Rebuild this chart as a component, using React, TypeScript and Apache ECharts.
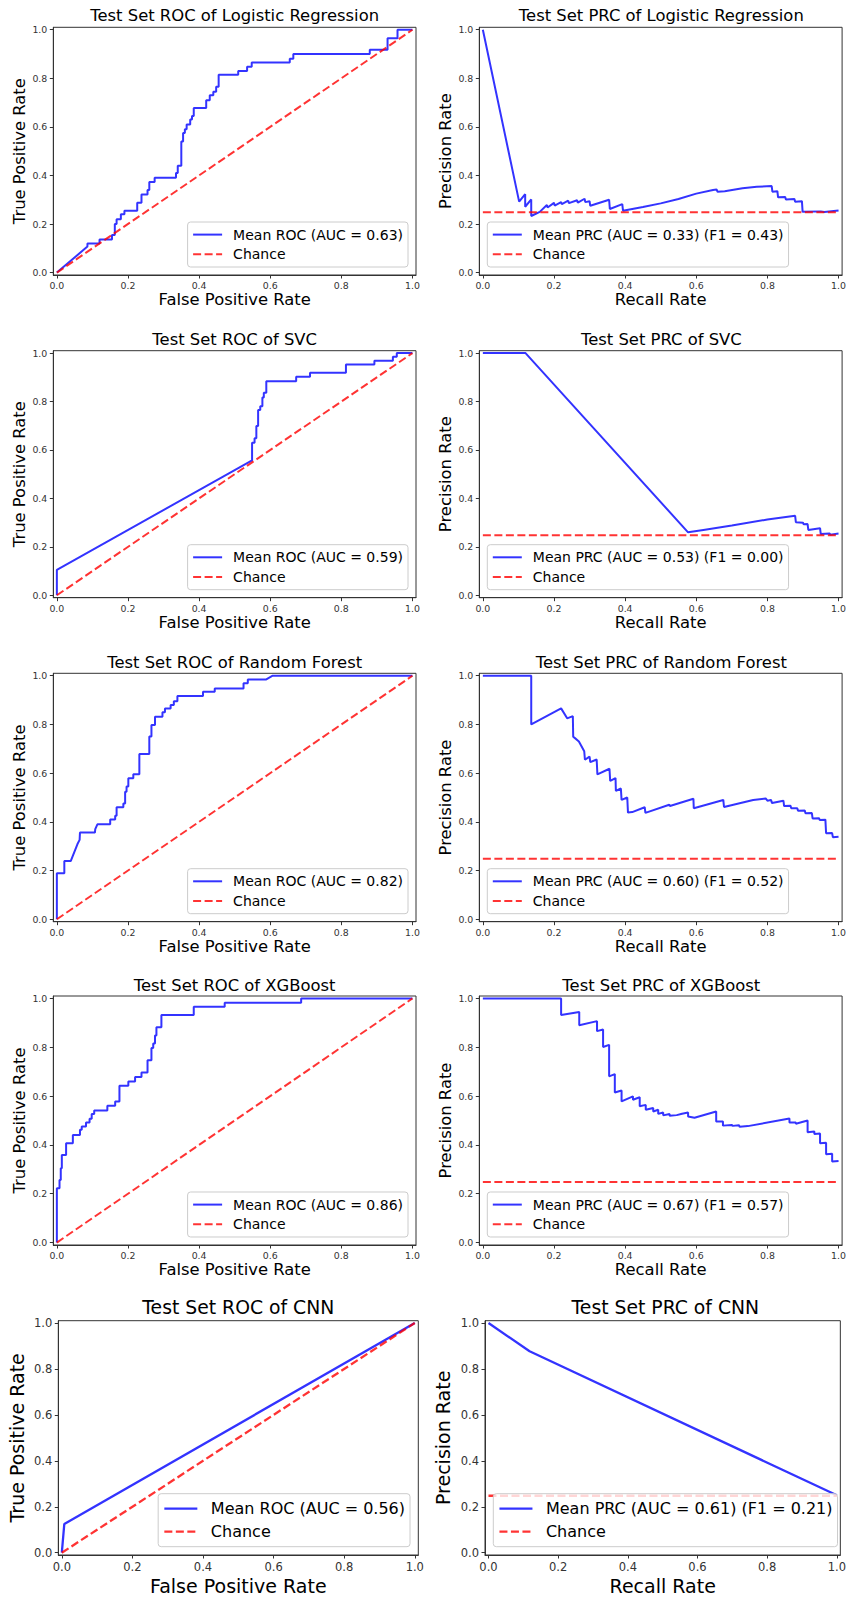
import React, { useEffect, useRef } from "react";
import * as echarts from "echarts";

// ---------- data ----------
const tickValues = [0, 0.2, 0.4, 0.6, 0.8, 1.0];
const chancePrecision = 0.248;
const rocChance = [[0, 0], [1, 1]];
const prcChance = [[0, chancePrecision], [1, chancePrecision]];

const rocLR = [[0,0],[0.086,0.107],[0.086,0.12],[0.12,0.12],[0.12,0.136],[0.155,0.136],[0.155,0.155],[0.163,0.155],[0.163,0.2],[0.168,0.2],[0.168,0.22],[0.18,0.22],[0.18,0.24],[0.19,0.24],[0.19,0.255],[0.226,0.255],[0.226,0.288],[0.238,0.288],[0.238,0.322],[0.255,0.322],[0.255,0.34],[0.26,0.34],[0.26,0.373],[0.275,0.373],[0.275,0.39],[0.335,0.39],[0.335,0.41],[0.34,0.41],[0.34,0.44],[0.35,0.44],[0.35,0.54],[0.355,0.54],[0.355,0.575],[0.36,0.575],[0.36,0.59],[0.365,0.59],[0.365,0.61],[0.375,0.61],[0.375,0.63],[0.38,0.63],[0.38,0.645],[0.385,0.645],[0.385,0.678],[0.42,0.678],[0.42,0.71],[0.43,0.71],[0.43,0.73],[0.44,0.73],[0.44,0.745],[0.448,0.745],[0.448,0.765],[0.455,0.765],[0.455,0.815],[0.51,0.815],[0.51,0.83],[0.535,0.83],[0.535,0.848],[0.548,0.848],[0.548,0.865],[0.655,0.865],[0.655,0.88],[0.665,0.88],[0.665,0.9],[0.88,0.9],[0.88,0.918],[0.93,0.918],[0.93,0.965],[0.958,0.965],[0.958,1.0],[1.0,1.0]];
const prcLR = [[0,1],[0.102,0.292],[0.119,0.323],[0.119,0.271],[0.136,0.301],[0.136,0.233],[0.16,0.25],[0.18,0.278],[0.182,0.268],[0.2,0.287],[0.202,0.276],[0.22,0.29],[0.222,0.282],[0.24,0.296],[0.242,0.286],[0.265,0.298],[0.267,0.288],[0.286,0.304],[0.288,0.29],[0.3,0.294],[0.302,0.275],[0.355,0.3],[0.357,0.262],[0.392,0.282],[0.394,0.255],[0.42,0.262],[0.45,0.27],[0.5,0.285],[0.55,0.303],[0.6,0.325],[0.647,0.34],[0.657,0.342],[0.66,0.333],[0.68,0.335],[0.73,0.347],[0.77,0.353],[0.812,0.356],[0.814,0.333],[0.828,0.335],[0.83,0.31],[0.85,0.311],[0.852,0.301],[0.876,0.303],[0.878,0.292],[0.897,0.294],[0.899,0.25],[0.95,0.252],[0.96,0.249],[1,0.256]];

const rocSVC = [[0,0],[0,0.105],[0.549,0.557],[0.549,0.63],[0.556,0.63],[0.556,0.648],[0.561,0.648],[0.561,0.699],[0.566,0.699],[0.566,0.765],[0.572,0.765],[0.572,0.781],[0.578,0.781],[0.578,0.817],[0.582,0.817],[0.582,0.836],[0.589,0.836],[0.589,0.884],[0.673,0.884],[0.673,0.902],[0.712,0.902],[0.712,0.919],[0.813,0.919],[0.813,0.953],[0.893,0.953],[0.893,0.968],[0.945,0.968],[0.945,0.985],[0.956,0.985],[0.956,1.0],[1,1]];
const prcSVC = [[0,1],[0.12,1],[0.577,0.26],[0.62,0.27],[0.7,0.288],[0.8,0.313],[0.878,0.328],[0.88,0.302],[0.9,0.3],[0.902,0.293],[0.913,0.294],[0.915,0.27],[0.948,0.277],[0.95,0.253],[0.975,0.255],[0.977,0.25],[1,0.255]];

const rocRF = [[0,0],[0,0.189],[0.021,0.189],[0.021,0.239],[0.039,0.239],[0.058,0.309],[0.064,0.326],[0.065,0.356],[0.107,0.356],[0.108,0.37],[0.114,0.39],[0.15,0.39],[0.15,0.41],[0.164,0.41],[0.164,0.425],[0.168,0.425],[0.168,0.46],[0.187,0.46],[0.187,0.475],[0.192,0.475],[0.192,0.524],[0.196,0.524],[0.196,0.545],[0.201,0.545],[0.201,0.579],[0.215,0.579],[0.215,0.595],[0.232,0.595],[0.232,0.679],[0.26,0.679],[0.26,0.75],[0.266,0.75],[0.266,0.798],[0.276,0.798],[0.276,0.832],[0.297,0.832],[0.297,0.85],[0.304,0.85],[0.304,0.865],[0.32,0.865],[0.32,0.88],[0.329,0.88],[0.329,0.895],[0.339,0.895],[0.339,0.917],[0.411,0.917],[0.411,0.934],[0.444,0.934],[0.444,0.948],[0.525,0.948],[0.525,0.969],[0.537,0.969],[0.537,0.985],[0.589,0.985],[0.607,1],[1,1]];
const prcRF = [[0,1],[0.136,1],[0.136,0.8],[0.22,0.866],[0.237,0.825],[0.253,0.834],[0.254,0.75],[0.27,0.73],[0.285,0.69],[0.287,0.655],[0.3,0.668],[0.302,0.645],[0.32,0.656],[0.322,0.595],[0.356,0.618],[0.358,0.568],[0.373,0.58],[0.374,0.527],[0.388,0.537],[0.39,0.49],[0.406,0.5],[0.408,0.438],[0.42,0.44],[0.455,0.46],[0.457,0.437],[0.524,0.47],[0.526,0.465],[0.592,0.495],[0.593,0.456],[0.676,0.49],[0.678,0.461],[0.76,0.49],[0.795,0.496],[0.8,0.487],[0.81,0.49],[0.813,0.477],[0.845,0.487],[0.847,0.465],[0.865,0.466],[0.867,0.456],[0.884,0.456],[0.886,0.446],[0.905,0.447],[0.907,0.435],[0.925,0.436],[0.927,0.414],[0.945,0.415],[0.947,0.408],[0.963,0.409],[0.965,0.353],[0.982,0.354],[0.984,0.337],[1,0.339]];

const rocXGB = [[0,0],[0,0.222],[0.0075,0.222],[0.0075,0.256],[0.011,0.256],[0.011,0.304],[0.014,0.304],[0.014,0.359],[0.026,0.359],[0.026,0.407],[0.045,0.407],[0.045,0.441],[0.065,0.441],[0.065,0.462],[0.07,0.462],[0.07,0.475],[0.082,0.475],[0.082,0.492],[0.092,0.492],[0.092,0.507],[0.098,0.507],[0.098,0.527],[0.105,0.527],[0.105,0.541],[0.142,0.541],[0.142,0.56],[0.164,0.56],[0.164,0.578],[0.176,0.578],[0.176,0.642],[0.201,0.642],[0.201,0.66],[0.22,0.66],[0.22,0.678],[0.238,0.678],[0.238,0.697],[0.255,0.697],[0.255,0.747],[0.266,0.747],[0.266,0.797],[0.271,0.797],[0.271,0.815],[0.276,0.815],[0.276,0.848],[0.28,0.848],[0.28,0.882],[0.294,0.882],[0.294,0.932],[0.385,0.932],[0.385,0.966],[0.472,0.966],[0.472,0.982],[0.687,0.982],[0.687,1],[1,1]];
const prcXGB = [[0,1],[0.22,1],[0.22,0.932],[0.271,0.944],[0.271,0.89],[0.321,0.907],[0.321,0.866],[0.338,0.873],[0.338,0.801],[0.355,0.81],[0.355,0.681],[0.371,0.69],[0.371,0.615],[0.39,0.623],[0.39,0.578],[0.422,0.599],[0.422,0.585],[0.441,0.595],[0.441,0.558],[0.458,0.564],[0.458,0.544],[0.479,0.551],[0.479,0.537],[0.493,0.544],[0.493,0.527],[0.507,0.533],[0.507,0.521],[0.525,0.527],[0.525,0.519],[0.545,0.522],[0.56,0.528],[0.577,0.533],[0.577,0.516],[0.595,0.511],[0.656,0.537],[0.656,0.496],[0.675,0.496],[0.675,0.479],[0.7,0.482],[0.702,0.478],[0.72,0.481],[0.722,0.474],[0.745,0.477],[0.862,0.508],[0.862,0.492],[0.88,0.492],[0.88,0.487],[0.913,0.5],[0.913,0.452],[0.932,0.455],[0.932,0.445],[0.948,0.447],[0.948,0.407],[0.965,0.409],[0.965,0.362],[0.982,0.364],[0.982,0.332],[1,0.334]];

const rocCNN = [[0,0],[0.007,0.125],[1,1]];
const prcCNN = [[0,1],[0.118,0.877],[1,0.25]];

const models = ["Logistic Regression", "SVC", "Random Forest", "XGBoost", "CNN"];
const rocAUC = ["0.63", "0.59", "0.82", "0.86", "0.56"];
const prcAUC = ["0.33", "0.53", "0.60", "0.67", "0.61"];
const prcF1 = ["0.43", "0.00", "0.52", "0.57", "0.21"];
const rocCurves = [rocLR, rocSVC, rocRF, rocXGB, rocCNN];
const prcCurves = [prcLR, prcSVC, prcRF, prcXGB, prcCNN];

// ---------- layout ----------
const W = 849;
const H = 1600;
const FONT = "DejaVu Sans";
const BLUE = "rgba(0,0,255,0.8)";
const RED = "rgba(255,0,0,0.8)";
const rows = [
  { top: 27.3, h: 247.7, titleY: 15 },
  { top: 350.7, h: 247, titleY: 339.3 },
  { top: 673.3, h: 248.4, titleY: 662.7 },
  { top: 996, h: 249, titleY: 985 },
  { top: 1320.7, h: 234.3, titleY: 1307.3 },
];
const colsNormal = [{ left: 53.3, w: 362.7 }, { left: 479.3, w: 364 }];
const colsBig = [{ left: 58.3, w: 360 }, { left: 485, w: 360.7 }];
const styleNormal = { title: 16.4, name: 16.4, tick: 9.4, legend: 14, lw: 2, xGap: 16.8, yGap: 26.1, itemW: 29, itemH: 14, itemGap: 5.7, pad: [5.6, 5, 5.7, 4.5], textPad: 6, off: 8 };
const styleBig = { title: 18.8, name: 19, tick: 11.5, legend: 16, lw: 2.3, xGap: 21.5, yGap: 32.1, itemW: 33, itemH: 16, itemGap: 7, pad: [7, 5, 7, 5], textPad: 8.5, off: 8.3 };

function buildOption() {
  const grid: any[] = [], xAxis: any[] = [], yAxis: any[] = [], series: any[] = [], legend: any[] = [], title: any[] = [];
  let idx = 0;
  models.forEach((model, r) => {
    const big = r === 4;
    const st = big ? styleBig : styleNormal;
    const cols = big ? colsBig : colsNormal;
    const row = rows[r];
    [0, 1].forEach((c) => {
      const isRoc = c === 0;
      const col = cols[c];
      const i = idx++;
      grid.push({ left: col.left, top: row.top, width: col.w, height: row.h, show: true, borderColor: "#333", borderWidth: 1, backgroundColor: "transparent" });
      const axisCommon = (name: string, gap: number) => ({
        gridIndex: i, type: "value", min: -0.01, max: 1.01,
        name, nameLocation: "middle", nameGap: gap,
        nameTextStyle: { fontFamily: FONT, fontSize: st.name, color: "#000" },
        axisLine: { show: true, onZero: false, lineStyle: { color: "#333", width: 1 } },
        axisTick: { show: true, length: 3.5, customValues: tickValues, lineStyle: { color: "#333" } },
        axisLabel: { customValues: tickValues, formatter: (v: number) => v.toFixed(1), fontFamily: FONT, fontSize: st.tick, color: "#333", margin: 6 },
        splitLine: { show: false },
      });
      xAxis.push(axisCommon(isRoc ? "False Positive Rate" : "Recall Rate", st.xGap));
      yAxis.push(axisCommon(isRoc ? "True Positive Rate" : "Precision Rate", st.yGap));
      const meanName = isRoc
        ? `Mean ROC (AUC = ${rocAUC[r]})`
        : `Mean PRC (AUC = ${prcAUC[r]}) (F1 = ${prcF1[r]})`;
      series.push({ type: "line", name: meanName, xAxisIndex: i, yAxisIndex: i, data: isRoc ? rocCurves[r] : prcCurves[r], symbol: "none", lineStyle: { color: BLUE, width: st.lw }, itemStyle: { color: BLUE }, z: 2 });
      series.push({ type: "line", name: "Chance", xAxisIndex: i, yAxisIndex: i, data: isRoc ? rocChance : prcChance, symbol: "none", lineStyle: { color: RED, width: st.lw, type: [8, 3.5] }, itemStyle: { color: RED }, z: 3 });
      title.push({
        text: `Test Set ${isRoc ? "ROC" : "PRC"} of ${model}`,
        left: col.left + col.w / 2, top: row.titleY, textAlign: "center", textVerticalAlign: "middle", padding: 0,
        textStyle: { fontFamily: FONT, fontSize: st.title, fontWeight: "normal", color: "#000" },
      });
      const lg: any = {
        orient: "vertical", data: [meanName, "Chance"], selectedMode: false,
        bottom: H - (row.top + row.h - st.off),
        itemWidth: st.itemW, itemHeight: st.itemH, itemGap: st.itemGap, padding: st.pad,
        itemStyle: { color: "transparent", borderColor: "transparent", borderWidth: 0, opacity: 0 },
        lineStyle: { width: st.lw },
        backgroundColor: "rgba(255,255,255,0.8)", borderColor: "#cccccc", borderWidth: 1, borderRadius: 3,
        textStyle: { fontFamily: FONT, fontSize: st.legend, color: "#000", lineHeight: st.itemH, padding: [0, 0, 0, st.textPad] },
      };
      if (isRoc) lg.right = W - (col.left + col.w - st.off);
      else lg.left = col.left + st.off;
      legend.push(lg);
    });
  });
  return { animation: false, backgroundColor: "#fff", title, grid, xAxis, yAxis, series, legend };
}

export default function App() {
  const ref = useRef<HTMLDivElement>(null);
  useEffect(() => {
    const chart = echarts.init(ref.current!, null, { renderer: "svg" });
    chart.setOption(buildOption() as any);
    return () => chart.dispose();
  }, []);
  return <div ref={ref} style={{ position: "absolute", left: 0, top: 0, width: W, height: H }} />;
}
